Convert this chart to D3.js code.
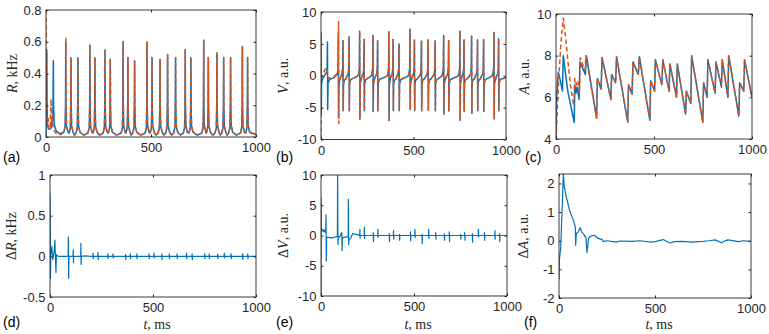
<!DOCTYPE html>
<html><head><meta charset="utf-8">
<script src="https://cdn.jsdelivr.net/npm/d3@7"></script>
<style>body{margin:0;background:#fff}svg{display:block}</style>
</head><body><svg id="c" width="769" height="334"></svg>
<script>
// ---------------- DATA ----------------
const xTicks = [0, 500, 1000];
const rTicks = [0, 0.2, 0.4, 0.6, 0.8];
const vTicks = [-10, -5, 0, 5, 10];
const aTicks = [4, 6, 8, 10];
const dRTicks = [-0.5, 0, 0.5, 1];
const dVTicks = [-10, -5, 0, 5, 10];
const dATicks = [-2, -1, 0, 1, 2];

// spike times shared by both runs after the transient (ms)
const spikeTimes = [119,152,209,233,281,306,367,390,422,481,505,543,579,617,663,690,751,773,814,846,879,935,960];
const rPeaks  = [0.5,0.5,0.58,0.5,0.55,0.49,0.6,0.5,0.48,0.6,0.5,0.49,0.52,0.5,0.55,0.5,0.61,0.5,0.53,0.5,0.5,0.57,0.5];
const vPeaks  = [5.5,6.1,7.0,5.7,6.3,5.5,6.9,5.7,5.0,7.3,5.6,5.4,5.6,5.5,6.3,5.5,7.0,5.6,6.2,5.6,5.7,6.8,5.8];
const vTroughs= [-5.5,-5.5,-6.8,-5.5,-5.6,-5.5,-7.0,-5.5,-5.5,-5.3,-5.5,-5.5,-5.4,-5.5,-6.0,-5.5,-7.0,-5.6,-5.9,-5.5,-5.6,-6.8,-5.5];

// transient parts [t, value]
const rBlueEarly = [[0,0.0],[2,0.25],[4,0.55],[5,0.2],[7,0.08],[12,0.05],[20,0.05],[28,0.07],[33,0.15],[35,0.48],[36,0.2],[39,0.08],[48,0.04],[65,0.02],[85,0.03],[91,0.07],[93,0.2],[94,0.6],[95,0.2],[97,0.07],[105,0.03]];
const rRedEarly  = [[0,0.8],[1,0.45],[3,0.12],[6,0.08],[10,0.12],[14,0.05],[20,0.06],[24,0.24],[26,0.08],[31,0.13],[33,0.06],[38,0.04],[50,0.02],[70,0.015],[85,0.03],[92,0.07],[94,0.2],[95,0.62],[96,0.2],[98,0.07],[105,0.03]];
const vBlueEarly = [[0,0.5],[0.5,6.7],[1.5,-6.2],[3,-1.2],[8,-0.5],[20,0.1],[30,0.5],[33,1.2],[35,5.3],[36,-5.3],[38,-1.2],[45,-0.6],[70,-0.3],[86,0.2],[92,0.8],[93.5,6.7],[94.7,-6.5],[96,-1.3],[102,-0.6]];
const vRedEarly  = [[0,-10],[1,-1],[5,0],[15,0.5],[25,1.2],[29,1.3],[33,0.8],[40,-0.4],[60,-0.3],[85,0.2],[93,0.9],[95,8.5],[96.2,-7.5],[97.5,-1.5],[103,-0.6]];

const aBlue = [[0,4],[3,6.0],[12,7.2],[20,6.9],[33,6.3],[37,8.0],[60,6.3],[93,4.8],[96,6.6],[102,6.2],[107,6.5],[118,5.9],[122,7.7],[150,7.1],[155,8.0],[207,5.0],[211,6.9],[230,6.4],[235,7.9],[280,5.9],[284,7.1],[304,6.7],[309,7.95],[366,4.8],[370,6.6],[388,6.15],[393,7.7],[420,7.1],[425,7.95],[479,4.9],[483,6.8],[503,6.3],[507,7.8],[540,6.6],[545,7.8],[577,6.3],[581,7.6],[615,6.0],[619,7.6],[661,5.2],[665,6.3],[688,5.7],[692,8.0],[749,4.8],[753,6.7],[771,6.0],[775,7.8],[812,6.2],[816,7.7],[844,6.5],[848,7.8],[877,6.0],[881,8.0],[933,5.1],[937,6.7],[958,6.3],[962,7.8],[1000,6.0]];
const aRed = [[0,4],[6,5.3],[15,7.0],[25,8.6],[37,9.8],[50,8.8],[60,7.8],[75,6.5],[90,5.6],[96,6.9],[105,6.6],[112,6.8],[120,6.2],[124,7.9],[148,7.3],[153,8.0],[207,5.0],[211,6.9],[230,6.4],[235,7.9],[280,5.9],[284,7.1],[304,6.7],[309,7.95],[366,4.8],[370,6.6],[388,6.15],[393,7.7],[420,7.1],[425,7.95],[479,4.9],[483,6.8],[503,6.3],[507,7.8],[540,6.6],[545,7.8],[577,6.3],[581,7.6],[615,6.0],[619,7.6],[661,5.2],[665,6.3],[688,5.7],[692,8.0],[749,4.8],[753,6.7],[771,6.0],[775,7.8],[812,6.2],[816,7.7],[844,6.5],[848,7.8],[877,6.0],[881,8.0],[933,5.1],[937,6.7],[958,6.3],[962,7.8],[1000,6.0]];

// differences
const dREarly = [[0,0.78],[1,0.45],[2,-0.27],[4,0.1],[6,0.04],[9,0.12],[13,-0.04],[20,0.05],[24,0.2],[26,0.0],[29,-0.2],[31,0.02],[40,0.0],[88,0.0],[89,0.24],[90.5,-0.27],[92,0.0],[112,0.0],[113,0.08],[114,-0.08],[115,0.0],[149,0.0],[150,0.16],[151,-0.1],[152.5,0.0],[170,0.005],[200,0.0]];
const dRUp   = [0.04,0.05,0.03,0.03,0.02,0.03,0.03,0.03,0.04,0.03,0.03,0.03,0.04,0.03,0.03,0.03,0.03,0.04,0.03,0.03,0.03];
const dRDown = [-0.03,-0.04,-0.03,-0.02,-0.04,-0.03,-0.03,-0.03,-0.02,-0.04,-0.03,-0.03,-0.03,-0.04,-0.03,-0.03,-0.03,-0.02,-0.03,-0.04,-0.03];
const dVEarly = [[0,-10],[0.8,6.1],[2,0.5],[5,0.8],[10,1.0],[15,0.6],[20,0.9],[25,0.5],[27,3.4],[28.5,-4.2],[30,-0.3],[40,-0.3],[60,-0.4],[80,-0.2],[88,-0.2],[89.5,10.5],[91,-1.5],[93,-0.2],[100,-0.3],[112,0.5],[113,-2.5],[115,-0.5],[120,-0.3],[146,-0.2],[147,6.0],[148.5,-1.5],[150,-0.8],[160,-0.4],[170,0.3],[190,0.2],[200,0.1]];
const dVUp   = [1,1.4,0.5,1,0.3,0.8,0.2,0.6,1,0.2,1,0.5,0.3,0.6,0.2,0.5,0.3,1,0.5,0.8,0.3];
const dVDown = [-0.4,-0.5,-1,-0.3,-1,-0.6,-0.8,-0.9,-0.3,-1.3,-0.5,-0.6,-0.8,-1,-0.6,-0.8,-1.1,-0.2,-0.8,-0.6,-1];
const dA = [[0,-1.35],[1.7,-0.68],[8.7,-0.27],[13.9,0.66],[22.6,2.33],[27.8,1.88],[39.9,1.48],[57.3,1.01],[74.6,0.72],[85,0.48],[86.8,-0.16],[90.3,0.25],[100.7,0.31],[111,0.46],[118,0.3],[130,0.22],[140.6,0.1],[145.8,-0.41],[154.5,0.1],[170,0.17],[184,0.19],[204.9,0.08],[225.7,0.04],[229,-0.03],[248,0.0],[300,-0.05],[320,-0.01],[380,-0.02],[420,0.0],[481,-0.05],[505,-0.02],[543,0.04],[560,-0.02],[579,-0.08],[600,-0.03],[640,-0.02],[690,-0.05],[750,-0.02],[780,0.0],[814,0.03],[846,-0.07],[860,-0.02],[879,0.03],[935,-0.03],[960,0.0],[1000,-0.02]];

// ---------------- build series ----------------
function rSeries(early){
  const pts = early.slice();
  spikeTimes.forEach((t,i)=>{
    const prev = i ? spikeTimes[i-1] : 105;
    if (t - prev > 30) pts.push([(t+prev)/2, 0.012]);
    pts.push([t-9,0.025],[t-3,0.06],[t-1,0.2],[t,rPeaks[i]],[t+1,0.2],[t+3,0.07],[t+10,0.03]);
  });
  pts.push([1000,0.015]);
  return pts;
}
function vSeries(early){
  const pts = early.slice();
  spikeTimes.forEach((t,i)=>{
    const prev = i ? spikeTimes[i-1] : 103;
    if (t - prev > 30) pts.push([prev+15,-0.5]);
    pts.push([t-12,-0.1],[t-5,0.3],[t-1.5,1.2],[t,vPeaks[i]],[t+1.2,vTroughs[i]],[t+2.5,-1.3],[t+7,-0.7]);
  });
  pts.push([975,-0.5],[1000,-0.3]);
  return pts;
}
function tickSeries(early, up, down, start){
  const pts = early.slice();
  spikeTimes.slice(start).forEach((t,i)=>{
    pts.push([t-1,0],[t,up[i]],[t+1,down[i]],[t+2,0]);
  });
  pts.push([1000,0]);
  return pts;
}

const BLUE = "#0072BD", RED = "#D95319", AX = "#262626";
const panels = [
  {id:"a", box:[46,256,10,137],  y:[0,0.8],   yt:rTicks, fmt:d=>d===0?"0":String(d), lab:["R",", kHz"], d:false, lines:[rSeries(rBlueEarly), rSeries(rRedEarly)], lx:12, tag:"(a)", tagx:3, tagy:162},
  {id:"b", box:[321,506,12,139.5], y:[-10,10], yt:vTicks, fmt:String, lab:["V",", a.u."], d:false, lines:[vSeries(vBlueEarly), vSeries(vRedEarly)], lx:283, tag:"(b)", tagx:276, tagy:162},
  {id:"c", box:[556,752,14,139], y:[4,10],   yt:aTicks, fmt:String, lab:["A",", a.u."], d:false, lines:[aBlue, aRed], lx:524, tag:"(c)", tagx:525, tagy:162},
  {id:"d", box:[50,256,175,297], y:[-0.5,1], yt:dRTicks, fmt:String, lab:["R",", kHz"], d:true, lines:[tickSeries(dREarly,dRUp,dRDown,2)], lx:11, tag:"(d)", tagx:3, tagy:327},
  {id:"e", box:[321,507,175,296], y:[-10,10], yt:dVTicks, fmt:String, lab:["V",", a.u."], d:true, lines:[tickSeries(dVEarly,dVUp,dVDown,2)], lx:283, tag:"(e)", tagx:276, tagy:327},
  {id:"f", box:[559,751,174,298], y:[-2,2.33], yt:dATicks, fmt:String, lab:["A",", a.u."], d:true, lines:[dA], lx:523, tag:"(f)", tagx:524, tagy:327}
];

const svg = d3.select("#c");
const defs = svg.append("defs");
const SANS = "'Liberation Sans', Arial, Helvetica, sans-serif";
const SERIF = "'Liberation Serif', 'Times New Roman', serif";

panels.forEach(p=>{
  const [x0,x1,y0,y1] = p.box;
  const x = d3.scaleLinear().domain([0,1000]).range([x0,x1]);
  const y = d3.scaleLinear().domain(p.y).range([y1,y0]);
  defs.append("clipPath").attr("id","clip"+p.id).append("rect")
    .attr("x",x0).attr("y",y0).attr("width",x1-x0).attr("height",y1-y0);
  const g = svg.append("g");
  const line = d3.line().x(d=>x(d[0])).y(d=>y(d[1]));
  const lg = g.append("g").attr("clip-path",`url(#clip${p.id})`);
  p.lines.forEach((pts,i)=>{
    lg.append("path").attr("d",line(pts)).attr("fill","none")
      .attr("stroke", i===0?BLUE:RED).attr("stroke-width", p.d ? 1.2 : 1.5)
      .attr("stroke-linejoin","round")
      .attr("stroke-dasharray", i===0?null:"4.5,3");
  });
  // box
  g.append("rect").attr("x",x0).attr("y",y0).attr("width",x1-x0).attr("height",y1-y0)
    .attr("fill","none").attr("stroke",AX).attr("stroke-width",0.9);
  // axes with inward ticks
  const tl = 2.5;
  g.append("g").attr("transform",`translate(0,${y1})`)
    .call(d3.axisBottom(x).tickValues(xTicks).tickSize(-tl).tickPadding(6).tickFormat(String))
    .call(s=>{s.select(".domain").remove(); s.selectAll("line").attr("stroke",AX);
      s.selectAll("text").attr("fill",AX).style("font-family",SANS).style("font-size","13px");});
  g.append("g").attr("transform",`translate(0,${y0})`)
    .call(d3.axisTop(x).tickValues(xTicks).tickSize(-tl).tickFormat(""))
    .call(s=>{s.select(".domain").remove(); s.selectAll("line").attr("stroke",AX);});
  g.append("g").attr("transform",`translate(${x0},0)`)
    .call(d3.axisLeft(y).tickValues(p.yt).tickSize(-tl).tickPadding(4.5).tickFormat(p.fmt))
    .call(s=>{s.select(".domain").remove(); s.selectAll("line").attr("stroke",AX);
      s.selectAll("text").attr("fill",AX).style("font-family",SANS).style("font-size","13px");});
  g.append("g").attr("transform",`translate(${x1},0)`)
    .call(d3.axisRight(y).tickValues(p.yt).tickSize(-tl).tickFormat(""))
    .call(s=>{s.select(".domain").remove(); s.selectAll("line").attr("stroke",AX);});
  // y label
  const cy = (y0+y1)/2;
  const yl = g.append("text").attr("transform",`translate(${p.lx},${cy}) rotate(-90)`)
    .attr("text-anchor","middle").attr("dominant-baseline","central")
    .style("font-family",SERIF).style("font-size","14px").attr("fill",AX);
  if (p.d) yl.append("tspan").text("Δ");
  yl.append("tspan").style("font-style","italic").text(p.lab[0]);
  yl.append("tspan").text(p.lab[1]);
  // x label for bottom row
  if (p.d) {
    const xl = g.append("text").attr("x",(x0+x1)/2+4).attr("y",329).attr("text-anchor","middle")
      .style("font-family",SERIF).style("font-size","14px").attr("fill",AX);
    xl.append("tspan").style("font-style","italic").text("t");
    xl.append("tspan").text(", ms");
  }
  // panel tag
  g.append("text").attr("x",p.tagx).attr("y",p.tagy).text(p.tag)
    .style("font-family",SANS).style("font-size","14px").attr("fill","#000");
});
</script></body></html>
